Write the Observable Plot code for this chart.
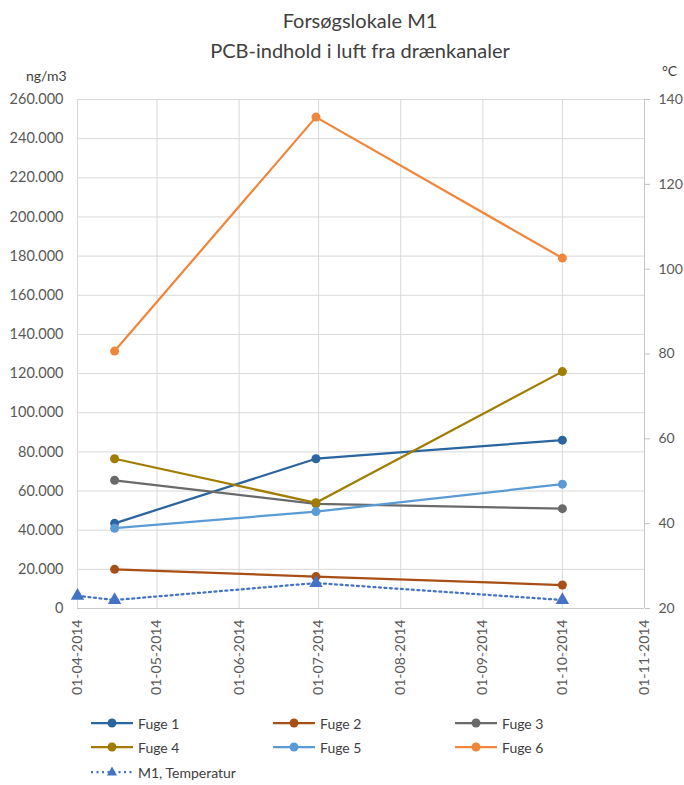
<!DOCTYPE html>
<html>
<head>
<meta charset="utf-8">
<script src="https://cdn.jsdelivr.net/npm/d3@7"></script>
<script src="https://cdn.jsdelivr.net/npm/@observablehq/plot@0.6"></script>
<style>
  body { margin: 0; background: #fff; font-family: Lato, "Open Sans", sans-serif; }
  #chart { position: relative; width: 684px; height: 785px; overflow: hidden; background: #fff; }
  #chart > svg { position: absolute; left: 0; top: 0; }
  .title { position: absolute; left: 0; width: 720px; text-align: center; font-size: 20px; color: #404040; line-height: 30px; }
  .unit { position: absolute; font-size: 14px; color: #404040; }
  .legend-item { position: absolute; height: 20px; display: flex; align-items: center; font-size: 14px; color: #404040; white-space: nowrap; }
  .legend-item svg { display: block; margin-right: 5px; }
</style>
</head>
<body>
<div id="chart"></div>
<script>
// Sampling dates and PCB concentrations (ng/m3) per joint
const sampleDates = ["2014-04-15", "2014-06-30", "2014-10-01"];
const fuge1 = [43500, 76500, 86000];
const fuge2 = [20000, 16300, 12000];
const fuge3 = [65500, 53500, 51000];
const fuge4 = [76500, 54000, 121000];
const fuge5 = [41000, 49500, 63500];
const fuge6 = [131500, 251000, 179000];

const seriesNames = ["Fuge 1", "Fuge 2", "Fuge 3", "Fuge 4", "Fuge 5", "Fuge 6"];
const seriesValues = [fuge1, fuge2, fuge3, fuge4, fuge5, fuge6];
const seriesColors = ["#2a65a0", "#a84f16", "#6a6a6a", "#a07c00", "#5b9bd5", "#f0863c"];

// Room temperature (°C), secondary axis
const tempName = "M1, Temperatur";
const tempDates = ["2014-04-01", "2014-04-15", "2014-06-30", "2014-10-01"];
const tempValues = [23, 22, 26, 22];
const tempColor = "#4472c4";

// Axis ticks
const yTicks = [0, 20000, 40000, 60000, 80000, 100000, 120000, 140000, 160000, 180000, 200000, 220000, 240000, 260000];
const tempTicks = [20, 40, 60, 80, 100, 120, 140];
const monthTicks = ["2014-04-01", "2014-05-01", "2014-06-01", "2014-07-01", "2014-08-01", "2014-09-01", "2014-10-01", "2014-11-01"];

const yMax = 260000;
const tMin = 20, tMax = 140;
// map a temperature onto the primary (ng/m3) scale
const tempToY = t => (t - tMin) / (tMax - tMin) * yMax;
const yToTemp = v => tMin + v / yMax * (tMax - tMin);

const monthDates = monthTicks.map(d => new Date(d));

const rows = seriesNames.flatMap((name, s) =>
  sampleDates.map((d, i) => ({series: name, date: new Date(d), value: seriesValues[s][i]}))
);
const tempRows = tempDates.map((d, i) => ({date: new Date(d), value: tempToY(tempValues[i])}));

const fmtNg = d => d3.format(",")(d).replace(/,/g, ".");
const fmtDate = d3.utcFormat("%d-%m-%Y");

const marks = [
  Plot.gridY(yTicks, {stroke: "#d9d9d9", strokeOpacity: 1}),
  Plot.gridX(monthDates, {stroke: "#d9d9d9", strokeOpacity: 1}),
  Plot.ruleY([0], {stroke: "#c8c8c8"}),
  Plot.ruleX([monthDates[monthDates.length - 1]], {stroke: "#c8c8c8"}),
  Plot.axisY(yTicks, {anchor: "left", tickSize: 0, tickPadding: 14, tickFormat: fmtNg, fontSize: 14.5, color: "#595959", label: null}),
  Plot.axisY(tempTicks.map(tempToY), {anchor: "right", tickSize: 5, tickPadding: 9, tickFormat: d => Math.round(yToTemp(d)), fontSize: 14, stroke: "#bfbfbf", fill: "#595959", label: null}),
  Plot.axisX(monthDates, {anchor: "bottom", tickSize: 0, tickPadding: 11, tickRotate: -90, tickFormat: fmtDate, fontSize: 14, color: "#595959", label: null})
];

seriesNames.forEach(name => {
  const data = rows.filter(r => r.series === name);
  marks.push(Plot.line(data, {x: "date", y: "value", stroke: "series", strokeWidth: 2.25}));
  marks.push(Plot.dot(data, {x: "date", y: "value", fill: "series", r: 4.5}));
});
marks.push(Plot.line(tempRows, {x: "date", y: "value", stroke: tempColor, strokeWidth: 2.25, strokeDasharray: "2,3.5"}));
marks.push(Plot.dot(tempRows, {x: "date", y: "value", fill: tempColor, symbol: "triangle", r: 5}));

const plot = Plot.plot({
  width: 684,
  height: 700,
  marginLeft: 77,
  marginRight: 40,
  marginTop: 99,
  marginBottom: 92,
  style: {fontFamily: "Lato, 'Open Sans', sans-serif", background: "transparent"},
  x: {type: "utc", domain: [monthDates[0], monthDates[monthDates.length - 1]]},
  y: {domain: [0, yMax]},
  color: {domain: seriesNames, range: seriesColors},
  marks
});

const chart = document.getElementById("chart");
chart.appendChild(plot);

// titles and units
const t1 = document.createElement("div");
t1.className = "title"; t1.style.top = "5px"; t1.textContent = "Forsøgslokale M1";
const t2 = document.createElement("div");
t2.className = "title"; t2.style.top = "35px"; t2.textContent = "PCB-indhold i luft fra drænkanaler";
chart.append(t1, t2);

const u1 = document.createElement("div");
u1.className = "unit"; u1.style.left = "26px"; u1.style.top = "67px"; u1.textContent = "ng/m3";
const u2 = document.createElement("div");
u2.className = "unit"; u2.style.left = "662px"; u2.style.top = "62px"; u2.textContent = "°C";
chart.append(u1, u2);

// legend
function legendItem(label, color, x, y, dashed) {
  const item = document.createElement("div");
  item.className = "legend-item";
  item.style.left = x + "px";
  item.style.top = (y - 10) + "px";
  const ns = "http://www.w3.org/2000/svg";
  const svg = document.createElementNS(ns, "svg");
  svg.setAttribute("width", 42); svg.setAttribute("height", 14);
  const line = document.createElementNS(ns, "line");
  line.setAttribute("x1", 0); line.setAttribute("x2", 42);
  line.setAttribute("y1", 7); line.setAttribute("y2", 7);
  line.setAttribute("stroke", color); line.setAttribute("stroke-width", 2.25);
  if (dashed) line.setAttribute("stroke-dasharray", "2,3.5");
  svg.appendChild(line);
  if (dashed) {
    const tri = document.createElementNS(ns, "path");
    tri.setAttribute("d", "M21,1.5L26,10.5L16,10.5Z");
    tri.setAttribute("fill", color);
    svg.appendChild(tri);
  } else {
    const c = document.createElementNS(ns, "circle");
    c.setAttribute("cx", 21); c.setAttribute("cy", 7); c.setAttribute("r", 4.5);
    c.setAttribute("fill", color);
    svg.appendChild(c);
  }
  item.appendChild(svg);
  const span = document.createElement("span");
  span.textContent = label;
  item.appendChild(span);
  chart.appendChild(item);
}
const colX = [91, 273, 455];
const rowY = [723, 747, 772];
seriesNames.forEach((name, i) => legendItem(name, seriesColors[i], colX[i % 3], rowY[Math.floor(i / 3)], false));
legendItem(tempName, tempColor, colX[0], rowY[2], true);
</script>
</body>
</html>
